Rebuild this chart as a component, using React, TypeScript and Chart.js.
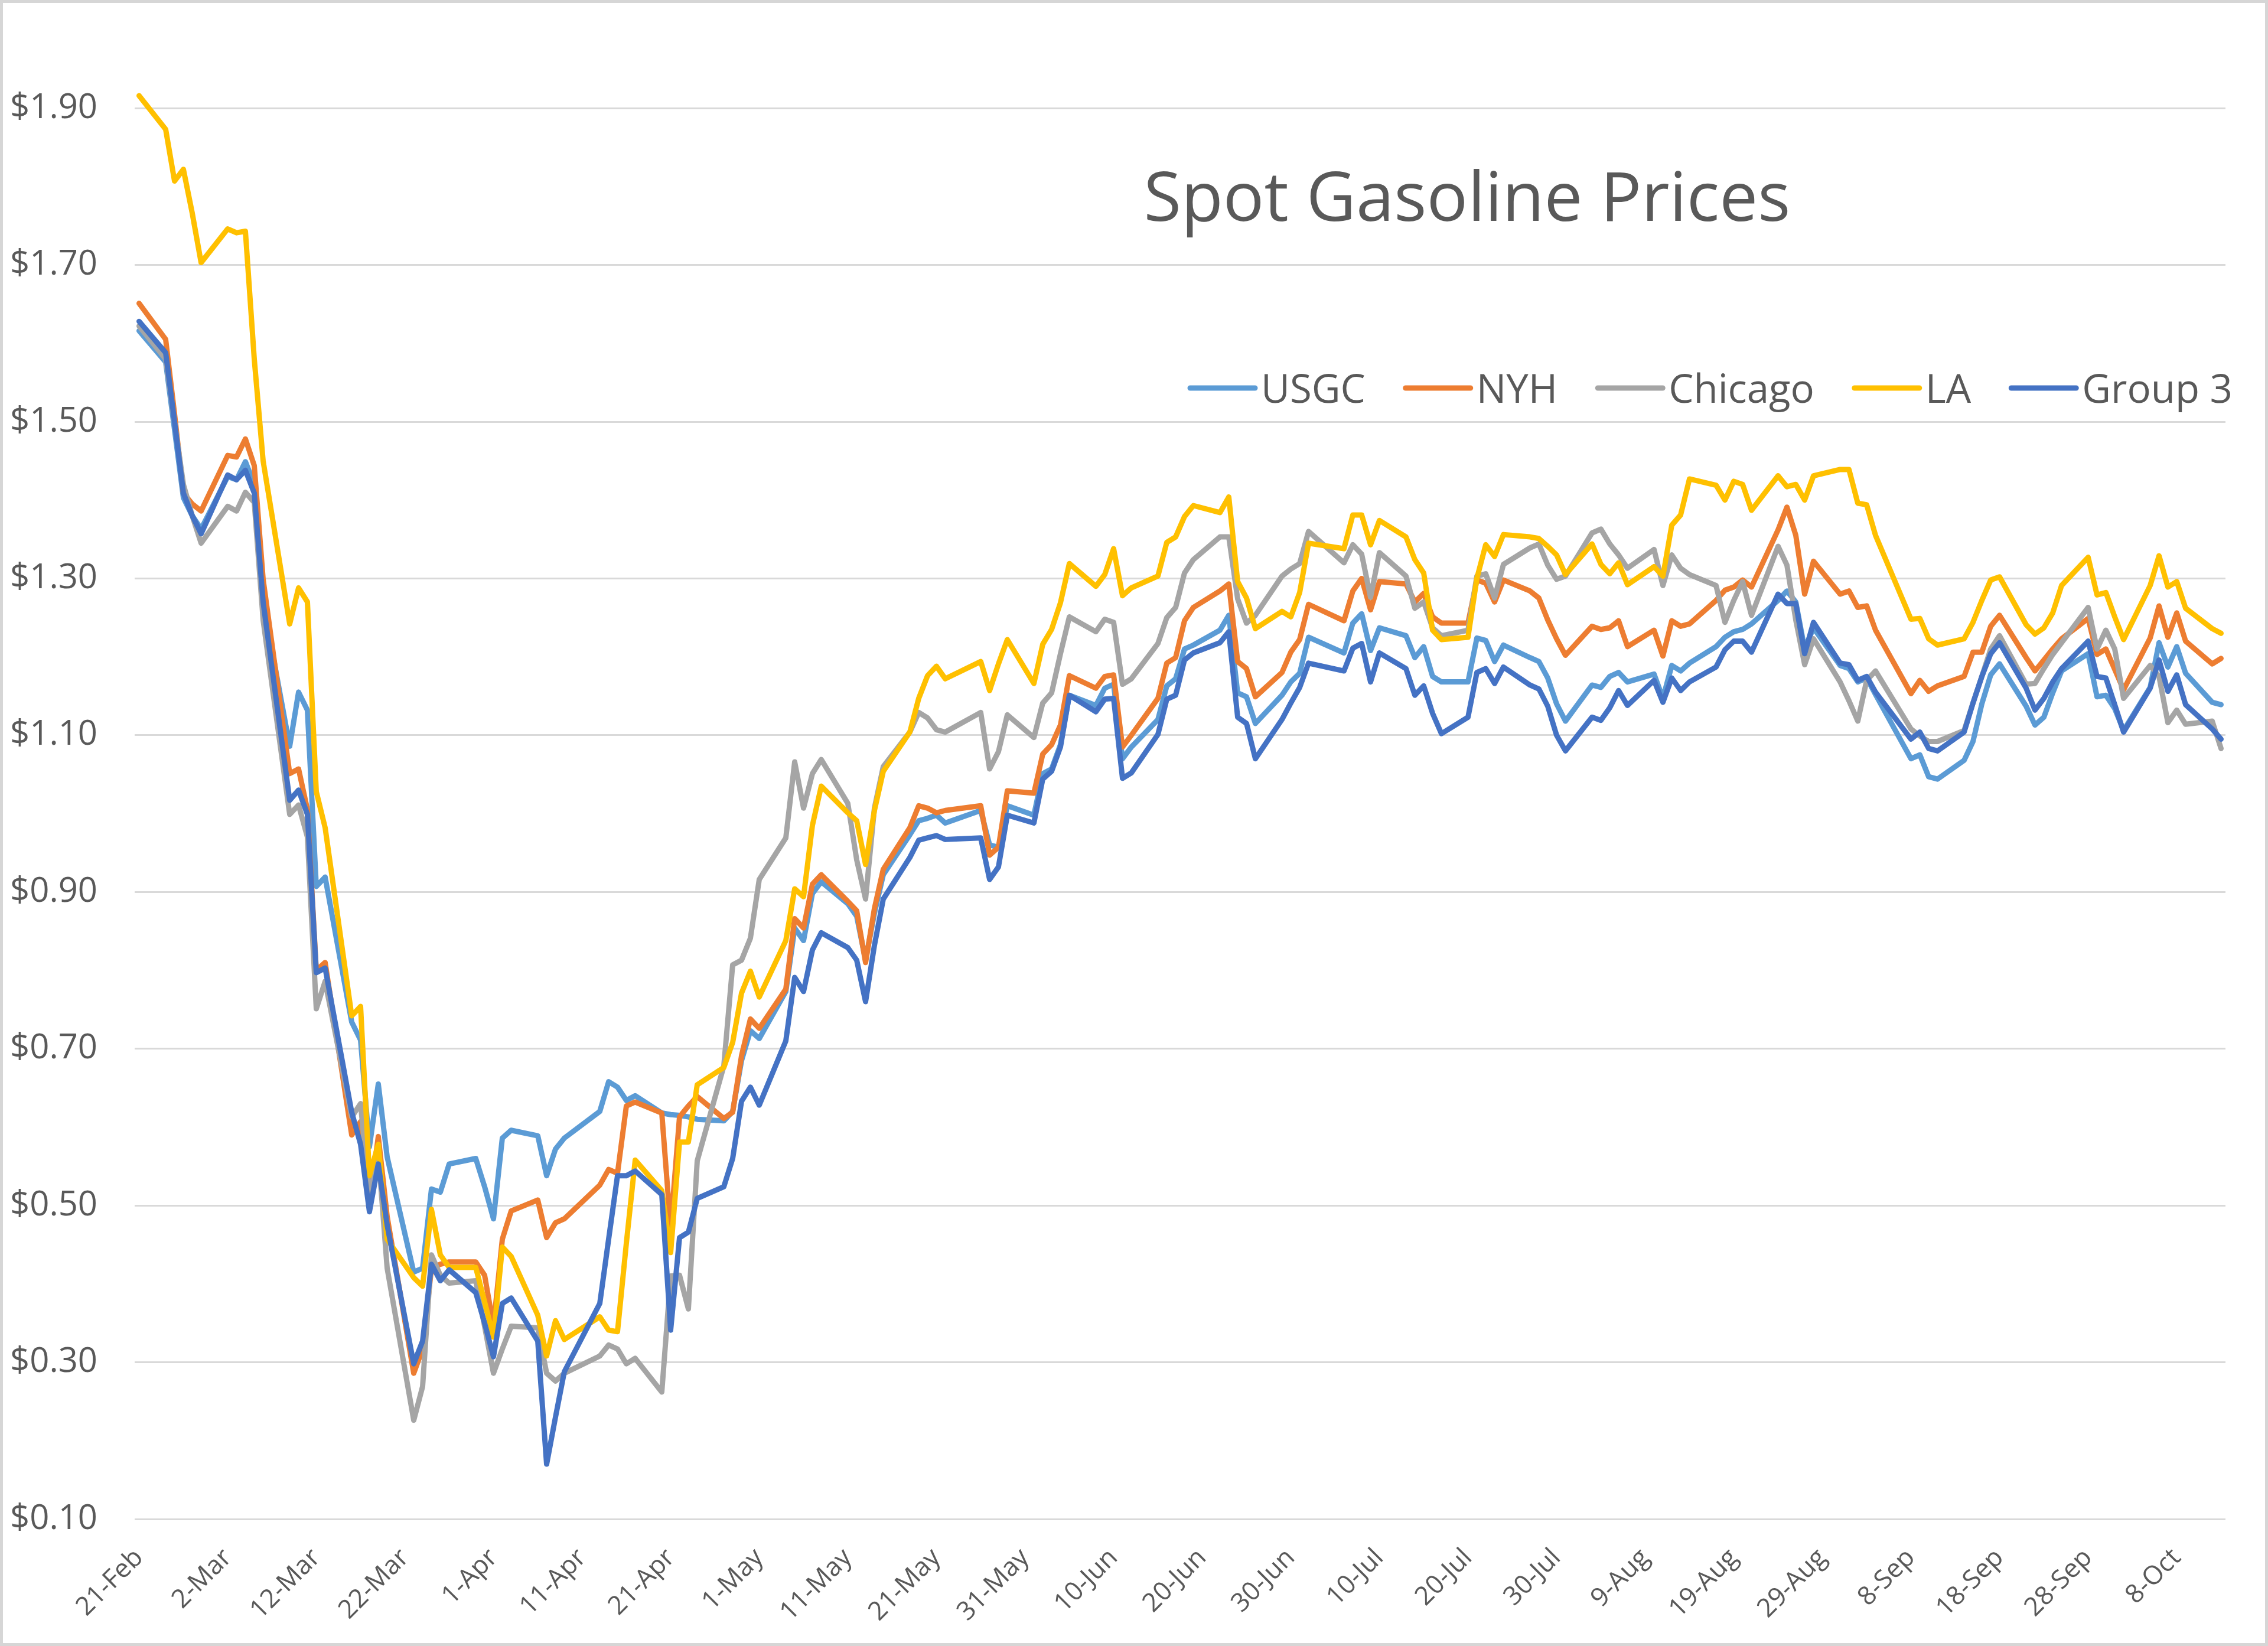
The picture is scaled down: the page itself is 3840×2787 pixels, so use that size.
import React, { useEffect, useRef } from 'react';
import { Chart, registerables } from 'chart.js';

Chart.register(...registerables);

const YEAR = 2020;
const TITLE = 'Spot Gasoline Prices';
const FONT = "'Open Sans', 'Noto Sans', sans-serif";

// Trading days (MM-DD, 2020)
const DATES = [
  '02-21', '02-24', '02-25', '02-26', '02-27', '02-28',
  '03-02', '03-03', '03-04', '03-05', '03-06', '03-09', '03-10', '03-11', '03-12', '03-13',
  '03-16', '03-17', '03-18', '03-19', '03-20', '03-23', '03-24', '03-25', '03-26', '03-27', '03-30', '03-31',
  '04-01', '04-02', '04-03', '04-06', '04-07', '04-08', '04-09', '04-13', '04-14', '04-15', '04-16', '04-17',
  '04-20', '04-21', '04-22', '04-23', '04-24', '04-27', '04-28', '04-29', '04-30',
  '05-01', '05-04', '05-05', '05-06', '05-07', '05-08', '05-11', '05-12', '05-13', '05-14', '05-15',
  '05-18', '05-19', '05-20', '05-21', '05-22', '05-26', '05-27', '05-28', '05-29',
  '06-01', '06-02', '06-03', '06-04', '06-05', '06-08', '06-09', '06-10', '06-11', '06-12',
  '06-15', '06-16', '06-17', '06-18', '06-19', '06-22', '06-23', '06-24', '06-25', '06-26', '06-29', '06-30',
  '07-01', '07-02', '07-06', '07-07', '07-08', '07-09', '07-10', '07-13', '07-14', '07-15', '07-16', '07-17',
  '07-20', '07-21', '07-22', '07-23', '07-24', '07-27', '07-28', '07-29', '07-30', '07-31',
  '08-03', '08-04', '08-05', '08-06', '08-07', '08-10', '08-11', '08-12', '08-13', '08-14',
  '08-17', '08-18', '08-19', '08-20', '08-21', '08-24', '08-25', '08-26', '08-27', '08-28', '08-31',
  '09-01', '09-02', '09-03', '09-04', '09-08', '09-09', '09-10', '09-11', '09-14', '09-15', '09-16', '09-17', '09-18',
  '09-21', '09-22', '09-23', '09-24', '09-25', '09-28', '09-29', '09-30',
  '10-01', '10-02', '10-05', '10-06', '10-07', '10-08', '10-09', '10-12', '10-13',
];

const USGC = [
  1.616, 1.576, 1.49, 1.403, 1.38, 1.363,
  1.43, 1.426, 1.449, 1.42, 1.27, 1.086, 1.155, 1.132, 0.907, 0.919,
  0.734, 0.711, 0.575, 0.655, 0.562, 0.415, 0.42, 0.521, 0.517, 0.553, 0.56, 0.524,
  0.483, 0.586, 0.596, 0.589, 0.538, 0.572, 0.586, 0.62, 0.658, 0.651, 0.634, 0.64,
  0.618, 0.616, 0.615, 0.613, 0.61, 0.608, 0.62, 0.685, 0.723,
  0.713, 0.773, 0.854, 0.838, 0.898, 0.913, 0.885, 0.869, 0.813, 0.873, 0.922,
  0.973, 0.991, 0.994, 0.998, 0.988, 1.004, 0.96, 0.957, 1.01,
  0.998, 1.051, 1.057, 1.088, 1.151, 1.138, 1.16, 1.165, 1.07, 1.085,
  1.12, 1.163, 1.172, 1.21, 1.215, 1.234, 1.253, 1.154, 1.149, 1.115, 1.151, 1.168,
  1.179, 1.225, 1.205, 1.243, 1.255, 1.208, 1.237, 1.227, 1.199, 1.213, 1.175, 1.168,
  1.168, 1.224, 1.221, 1.194, 1.215, 1.199, 1.194, 1.173, 1.14, 1.118,
  1.164, 1.161, 1.175, 1.18, 1.168, 1.178, 1.147, 1.189, 1.182, 1.192,
  1.213, 1.225, 1.232, 1.235, 1.242, 1.272, 1.284, 1.27, 1.21, 1.237, 1.189,
  1.185, 1.168, 1.173, 1.152, 1.07, 1.075, 1.047, 1.044, 1.068, 1.092, 1.14, 1.177, 1.191,
  1.137, 1.113, 1.123, 1.154, 1.182, 1.204, 1.149, 1.151,
  1.134, 1.106, 1.161, 1.218, 1.187, 1.213, 1.179, 1.142, 1.139,
];

const NYH = [
  1.651, 1.605, 1.51, 1.409, 1.395, 1.386,
  1.457, 1.455, 1.478, 1.444, 1.299, 1.051, 1.057, 1.005, 0.8, 0.81,
  0.59, 0.607, 0.503, 0.588, 0.486, 0.286, 0.317, 0.42, 0.425, 0.428, 0.428, 0.411,
  0.346, 0.457, 0.493, 0.507, 0.459, 0.478, 0.483, 0.526, 0.546, 0.541, 0.627, 0.632,
  0.618, 0.471, 0.613, 0.627, 0.639, 0.611, 0.619, 0.691, 0.738,
  0.726, 0.776, 0.866, 0.854, 0.91, 0.922, 0.888, 0.876, 0.81, 0.879, 0.929,
  0.982, 1.01, 1.007, 1.001, 1.004, 1.01, 0.947, 0.957, 1.029,
  1.026, 1.076, 1.088, 1.113, 1.176, 1.16, 1.175, 1.177, 1.085, 1.1,
  1.147, 1.192, 1.199, 1.246, 1.263, 1.284, 1.293, 1.194, 1.185, 1.149, 1.18, 1.206,
  1.222, 1.267, 1.246, 1.284, 1.3, 1.26, 1.296, 1.293, 1.27, 1.281, 1.251, 1.243,
  1.243, 1.298, 1.294, 1.27, 1.298, 1.284, 1.275, 1.247, 1.223, 1.202,
  1.239, 1.235, 1.237, 1.246, 1.213, 1.234, 1.201, 1.246, 1.239, 1.242,
  1.272, 1.285, 1.289, 1.298, 1.289, 1.362, 1.391, 1.355, 1.28, 1.322, 1.28,
  1.284, 1.263, 1.265, 1.234, 1.153, 1.17, 1.156, 1.163, 1.175, 1.206, 1.206, 1.239, 1.253,
  1.199, 1.182, 1.196, 1.21, 1.223, 1.249, 1.203, 1.21,
  1.184, 1.158, 1.224, 1.265, 1.225, 1.256, 1.22, 1.191, 1.198,
];

const CHICAGO = [
  1.622, 1.58, 1.5, 1.42, 1.38, 1.345,
  1.392, 1.386, 1.41, 1.397, 1.247, 0.999, 1.011, 0.97, 0.751, 0.786,
  0.613, 0.63, 0.509, 0.567, 0.42, 0.226, 0.269, 0.437, 0.411, 0.401, 0.404, 0.346,
  0.286, 0.317, 0.346, 0.344, 0.286, 0.276, 0.286, 0.308, 0.322, 0.317, 0.298, 0.305,
  0.262, 0.41, 0.411, 0.368, 0.557, 0.678, 0.807, 0.813, 0.841,
  0.916, 0.969, 1.066, 1.007, 1.051, 1.069, 1.013, 0.941, 0.891, 1.007, 1.06,
  1.104, 1.129, 1.122, 1.107, 1.104, 1.129, 1.057, 1.079, 1.126,
  1.097, 1.141, 1.154, 1.204, 1.251, 1.232, 1.248, 1.244, 1.165, 1.172,
  1.217, 1.25, 1.263, 1.307, 1.324, 1.353, 1.353, 1.274, 1.243, 1.253, 1.303, 1.312,
  1.319, 1.36, 1.32, 1.343, 1.331, 1.276, 1.333, 1.303, 1.262, 1.27, 1.237, 1.227,
  1.234, 1.303, 1.306, 1.275, 1.318, 1.339, 1.344, 1.317, 1.299, 1.303,
  1.358, 1.363, 1.344, 1.33, 1.313, 1.337, 1.291, 1.33, 1.313, 1.305,
  1.291, 1.244, 1.272, 1.296, 1.253, 1.341, 1.317, 1.247, 1.19, 1.223, 1.168,
  1.144, 1.118, 1.17, 1.182, 1.108, 1.099, 1.092, 1.092, 1.106, 1.141, 1.175, 1.21, 1.227,
  1.165, 1.166, 1.185, 1.203, 1.218, 1.263, 1.21, 1.234,
  1.21, 1.147, 1.189, 1.175, 1.116, 1.132, 1.114, 1.118, 1.083,
];

const LA = [
  1.916, 1.873, 1.807, 1.822, 1.766, 1.703,
  1.746, 1.741, 1.743, 1.58, 1.45, 1.242, 1.288, 1.27, 1.028, 0.982,
  0.742, 0.754, 0.538, 0.578, 0.457, 0.408, 0.397, 0.495, 0.437, 0.421, 0.421, 0.377,
  0.332, 0.447, 0.435, 0.36, 0.308, 0.353, 0.329, 0.358, 0.341, 0.339, 0.452, 0.558,
  0.519, 0.44, 0.581, 0.581, 0.654, 0.676, 0.708, 0.771, 0.799,
  0.766, 0.838, 0.904, 0.894, 0.985, 1.035, 1.001, 0.991, 0.935, 1.004, 1.054,
  1.104, 1.147, 1.176, 1.188, 1.172, 1.194, 1.157, 1.191, 1.222,
  1.166, 1.216, 1.235, 1.269, 1.319, 1.29, 1.305, 1.338, 1.278, 1.288,
  1.303, 1.346, 1.353, 1.379, 1.393, 1.384, 1.404, 1.296, 1.275, 1.236, 1.258, 1.251,
  1.282, 1.345, 1.338, 1.381, 1.381, 1.343, 1.374, 1.353, 1.324, 1.307, 1.234, 1.222,
  1.225, 1.3, 1.343, 1.328, 1.356, 1.353, 1.351, 1.341, 1.33, 1.305,
  1.344, 1.318, 1.306, 1.32, 1.292, 1.315, 1.303, 1.368, 1.381, 1.427,
  1.419, 1.4, 1.424, 1.42, 1.387, 1.431, 1.417, 1.42, 1.4, 1.431, 1.439,
  1.439, 1.396, 1.394, 1.355, 1.248, 1.249, 1.223, 1.215, 1.223, 1.244, 1.272, 1.298, 1.302,
  1.241, 1.229, 1.237, 1.256, 1.291, 1.327, 1.279, 1.282,
  1.251, 1.222, 1.291, 1.329, 1.289, 1.296, 1.262, 1.236, 1.23,
];

const GROUP3 = [
  1.628, 1.588, 1.5, 1.409, 1.38, 1.357,
  1.432, 1.426, 1.438, 1.409, 1.27, 1.017, 1.03, 0.999, 0.797, 0.803,
  0.619, 0.578, 0.492, 0.553, 0.475, 0.298, 0.327, 0.425, 0.404, 0.418, 0.389, 0.35,
  0.307, 0.375, 0.382, 0.327, 0.17, 0.23, 0.288, 0.375, 0.457, 0.538, 0.538, 0.544,
  0.514, 0.341, 0.459, 0.466, 0.509, 0.524, 0.56, 0.633, 0.651,
  0.628, 0.71, 0.791, 0.773, 0.826, 0.848, 0.829, 0.813, 0.76, 0.832, 0.891,
  0.944, 0.966, 0.969, 0.972, 0.967, 0.969, 0.916, 0.932, 0.998,
  0.988, 1.044, 1.054, 1.085, 1.151, 1.13, 1.146, 1.147, 1.045, 1.052,
  1.101, 1.146, 1.151, 1.196, 1.205, 1.218, 1.232, 1.123, 1.115, 1.07, 1.12, 1.141,
  1.161, 1.192, 1.182, 1.211, 1.217, 1.168, 1.205, 1.185, 1.151, 1.163, 1.128, 1.102,
  1.123, 1.18, 1.185, 1.166, 1.187, 1.164, 1.159, 1.137, 1.1, 1.08,
  1.123, 1.119, 1.135, 1.157, 1.138, 1.17, 1.142, 1.173, 1.157, 1.168,
  1.187, 1.209, 1.22, 1.22, 1.206, 1.28, 1.268, 1.268, 1.204, 1.244, 1.192,
  1.19, 1.17, 1.175, 1.155, 1.095, 1.104, 1.083, 1.08, 1.104, 1.141, 1.175, 1.204, 1.218,
  1.16, 1.132, 1.147, 1.168, 1.185, 1.22, 1.175, 1.173,
  1.139, 1.104, 1.16, 1.196, 1.156, 1.177, 1.139, 1.108, 1.095,
];

const SERIES_NAMES = ['USGC', 'NYH', 'Chicago', 'LA', 'Group 3'];
const SERIES_VALUES = [USGC, NYH, CHICAGO, LA, GROUP3];
const SERIES_COLORS = ['#5B9BD5', '#ED7D31', '#A5A5A5', '#FFC000', '#4472C4'];

const X_TICK_LABELS = [
  '21-Feb', '2-Mar', '12-Mar', '22-Mar', '1-Apr', '11-Apr', '21-Apr', '1-May', '11-May', '21-May',
  '31-May', '10-Jun', '20-Jun', '30-Jun', '10-Jul', '20-Jul', '30-Jul', '9-Aug', '19-Aug', '29-Aug',
  '8-Sep', '18-Sep', '28-Sep', '8-Oct',
];
const Y_TICKS = [0.1, 0.3, 0.5, 0.7, 0.9, 1.1, 1.3, 1.5, 1.7, 1.9];
const Y_MIN = 0.1;
const Y_MAX = 2.035;

const MONTHS = ['Jan', 'Feb', 'Mar', 'Apr', 'May', 'Jun', 'Jul', 'Aug', 'Sep', 'Oct', 'Nov', 'Dec'];
const BASE = Date.UTC(YEAR, 1, 21);
const dayOf = (m: number, d: number) => Math.round((Date.UTC(YEAR, m, d) - BASE) / 86400000);
const DAY_OFFSETS = DATES.map((s) => {
  const [mm, dd] = s.split('-').map(Number);
  return dayOf(mm - 1, dd);
});
const X_TICK_DAYS = X_TICK_LABELS.map((l) => {
  const [dd, mon] = l.split('-');
  return dayOf(MONTHS.indexOf(mon), Number(dd));
});
const X_MIN = DAY_OFFSETS[0] - 0.5;
const X_MAX = DAY_OFFSETS[DAY_OFFSETS.length - 1] + 0.5;

const W = 3840;
const H = 2787;

const overlayPlugin = {
  id: 'overlay',
  beforeDraw(chart: any) {
    const ctx = chart.ctx;
    ctx.save();
    ctx.fillStyle = '#ffffff';
    ctx.fillRect(0, 0, chart.width, chart.height);
    ctx.restore();
  },
  afterDraw(chart: any) {
    const ctx = chart.ctx;
    ctx.save();
    // frame
    ctx.strokeStyle = '#d6d6d6';
    ctx.lineWidth = 5;
    ctx.strokeRect(2.5, 2.5, chart.width - 5, chart.height - 5);

    // title
    ctx.fillStyle = '#595959';
    ctx.font = `400 120px ${FONT}`;
    const tw = ctx.measureText(TITLE).width;
    const tSize = (120 * 1095) / tw;
    ctx.font = `400 ${tSize}px ${FONT}`;
    ctx.textAlign = 'center';
    ctx.textBaseline = 'alphabetic';
    ctx.fillText(TITLE, 2484, 374);

    // legend
    ctx.font = `400 64px ${FONT}`;
    const widths64 = SERIES_NAMES.map((n) => ctx.measureText(n).width);
    const sum64 = widths64.reduce((a, b) => a + b, 0);
    const lSize = (64 * 893) / sum64;
    ctx.font = `400 ${lSize}px ${FONT}`;
    ctx.textAlign = 'left';
    let x = 2011;
    const lineY = 657;
    SERIES_NAMES.forEach((name, i) => {
      ctx.strokeStyle = SERIES_COLORS[i];
      ctx.lineWidth = 9;
      ctx.lineCap = 'round';
      ctx.beginPath();
      ctx.moveTo(x + 4, lineY);
      ctx.lineTo(x + 114, lineY);
      ctx.stroke();
      ctx.fillStyle = '#595959';
      ctx.fillText(name, x + 124, 682);
      x += 124 + ctx.measureText(name).width + 64;
    });
    ctx.restore();
  },
};

export default function App() {
  const canvasRef = useRef<HTMLCanvasElement | null>(null);

  useEffect(() => {
    const canvas = canvasRef.current;
    if (!canvas) return;
    const n = DAY_OFFSETS.length;
    const datasets = SERIES_NAMES.map((name, i) => ({
      label: name,
      data: DAY_OFFSETS.map((d, k) => ({ x: d, y: SERIES_VALUES[i][k] })).slice(0, Math.min(n, SERIES_VALUES[i].length)),
      borderColor: SERIES_COLORS[i],
      backgroundColor: SERIES_COLORS[i],
      borderWidth: 9,
      pointRadius: 0,
      pointHoverRadius: 0,
      tension: 0,
      fill: false,
      borderJoinStyle: 'round' as const,
      borderCapStyle: 'round' as const,
      order: SERIES_NAMES.length - i,
    }));

    const chart = new Chart(canvas, {
      type: 'line',
      data: { datasets },
      options: {
        animation: false,
        responsive: false,
        devicePixelRatio: 1,
        events: [],
        layout: { padding: { left: 0, top: 4, right: W - 3768, bottom: 0 } },
        plugins: {
          legend: { display: false },
          title: { display: false },
          tooltip: { enabled: false },
        },
        scales: {
          x: {
            type: 'linear',
            min: X_MIN,
            max: X_MAX,
            afterBuildTicks: (s: any) => {
              s.ticks = X_TICK_DAYS.map((v) => ({ value: v }));
            },
            afterFit: (s: any) => {
              s.height = H - 2572;
              s.paddingLeft = 0;
              s.paddingRight = 0;
            },
            grid: { display: false, drawTicks: false },
            border: { display: false },
            ticks: {
              autoSkip: false,
              maxRotation: 45,
              minRotation: 45,
              padding: 40,
              color: '#595959',
              font: { family: FONT, size: 44 },
              callback: (_v: any, i: number) => X_TICK_LABELS[i],
            },
          },
          y: {
            type: 'linear',
            min: Y_MIN,
            max: Y_MAX,
            afterBuildTicks: (s: any) => {
              s.ticks = Y_TICKS.map((v) => ({ value: v }));
            },
            afterFit: (s: any) => {
              s.width = 228;
              s.paddingTop = 0;
              s.paddingBottom = 0;
            },
            grid: { color: '#d9d9d9', lineWidth: 3, drawTicks: false },
            border: { display: false },
            ticks: {
              padding: 63,
              color: '#595959',
              font: { family: FONT, size: 58 },
              callback: (v: any) => '$' + Number(v).toFixed(2),
            },
          },
        },
      },
      plugins: [overlayPlugin],
    });
    return () => chart.destroy();
  }, []);

  return (
    <div style={{ position: 'fixed', left: 0, top: 0, width: W, height: H, background: '#fff' }}>
      <canvas ref={canvasRef} width={W} height={H} style={{ display: 'block', width: W, height: H }} />
    </div>
  );
}
